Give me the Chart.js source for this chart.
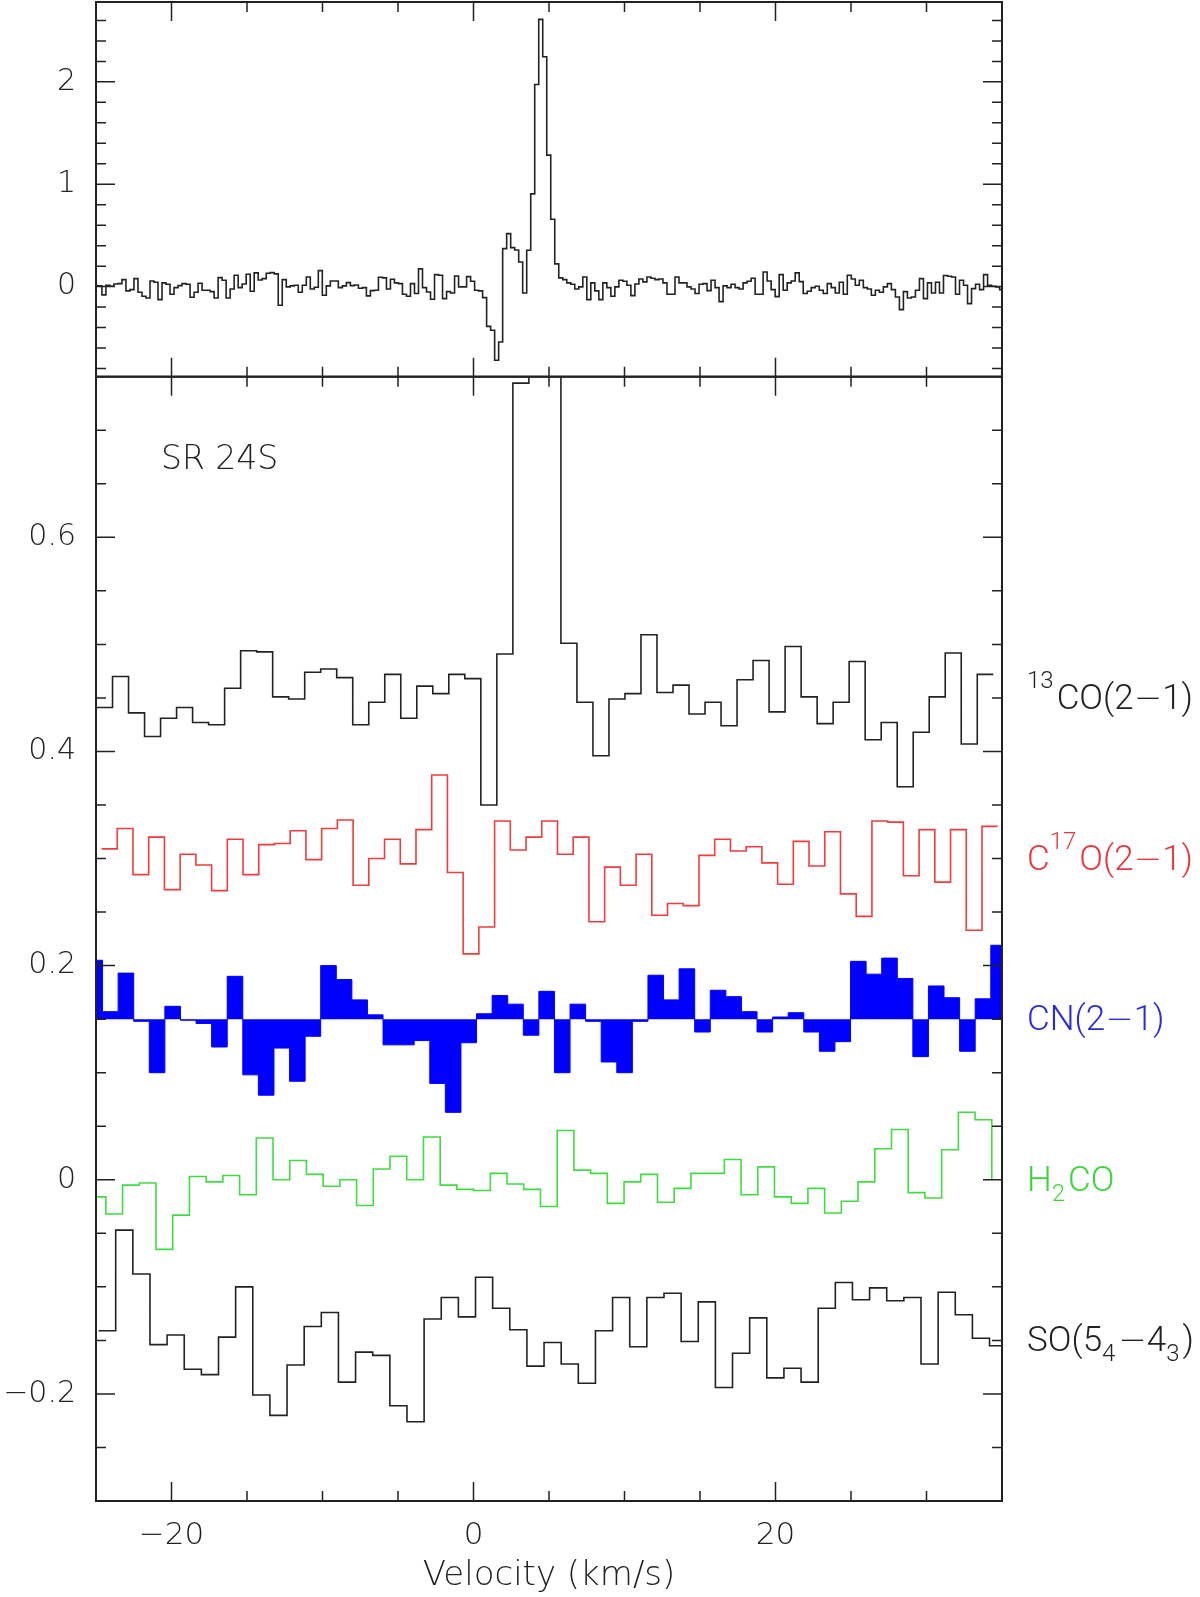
<!DOCTYPE html>
<html>
<head>
<meta charset="utf-8">
<title>SR 24S spectra</title>
<script src="https://cdn.jsdelivr.net/npm/chart.js@4.4.1/dist/chart.umd.min.js"></script>
<style>
  html, body { margin: 0; padding: 0; background: #fff; }
  #wrap { position: relative; width: 1200px; height: 1597px; overflow: hidden; }
  #wrap canvas { position: absolute; left: 0; }
  #topPanel { top: 0; }
  #bottomPanel { top: 370px; }
</style>
</head>
<body>
<div id="wrap">
  <canvas id="topPanel" width="1200" height="380"></canvas>
  <canvas id="bottomPanel" width="1200" height="1227"></canvas>
</div>
<script>
// velocity axis (km/s)
const velMin = -25, velMax = 35;
const xMajor = [-20, 0, 20];
const xMinor = [-15, -10, -5, 5, 10, 15, 25, 30];

// top panel: 13CO(2-1) at full resolution
const topYMin = -0.88, topYMax = 2.78;
const topYMajor = [0, 1, 2];
const topYMinor = [-0.8, -0.6, -0.4, -0.2, 0.2, 0.4, 0.6, 0.8, 1.2, 1.4, 1.6, 1.8, 2.2, 2.4, 2.6];
const topStart = -25.14, topWidth = 0.2654;   // left edge of first channel, channel width
const topValues = [
  0.007, 0.007, -0.081, 0.013, 0.003, 0.026, 0.029, 0.068, -0.042, -0.029,
  0.078, -0.055, -0.094, -0.111, 0.055, 0.042, -0.127, 0.036, 0.023, -0.075,
  -0.010, 0.010, 0.029, 0.023, -0.104, -0.055, 0.033, -0.036, -0.036, -0.049,
  -0.111, 0.088, 0.062, -0.111, -0.023, 0.111, -0.010, 0.026, 0.121, -0.046,
  0.134, 0.065, 0.078, 0.130, 0.137, 0.124, -0.182, 0.068, -0.003, 0.007,
  0.013, -0.055, 0.013, 0.094, -0.023, -0.007, 0.156, -0.085, 0.007, 0.055,
  0.055, -0.010, 0.007, 0.039, 0.010, 0.016, -0.016, -0.010, -0.091, -0.039,
  -0.036, 0.091, 0.085, -0.023, 0.072, 0.036, 0.029, -0.075, -0.094, 0.029,
  -0.068, 0.173, -0.010, -0.052, -0.124, 0.117, 0.111, -0.117, -0.049, -0.062,
  0.104, -0.003, -0.003, 0.098, 0.052, -0.036, -0.042, -0.108, -0.388, -0.427,
  -0.720, -0.541, 0.371, 0.518, 0.381, 0.358, 0.241, -0.062, 0.355, 0.906,
  1.974, 2.610, 2.245, 1.284, 0.658, 0.222, 0.085, 0.068, 0.036, 0.023,
  -0.023, -0.003, 0.094, -0.127, 0.036, -0.042, -0.127, 0.036, -0.010, -0.094,
  -0.003, 0.062, 0.052, 0.013, -0.088, 0.026, 0.075, 0.046, 0.094, 0.081,
  0.068, 0.075, 0.036, -0.075, -0.075, 0.094, 0.036, 0.036, -0.003, -0.023,
  -0.068, 0.023, 0.029, -0.039, 0.062, -0.010, -0.147, 0.007, -0.010, 0.023,
  -0.010, -0.023, 0.036, 0.052, 0.081, -0.075, -0.075, 0.143, 0.055, -0.029,
  -0.098, 0.117, -0.036, 0.036, 0.055, 0.134, 0.049, -0.068, -0.046, -0.010,
  0.003, -0.036, -0.068, 0.029, -0.010, -0.062, 0.042, -0.075, 0.111, 0.075,
  0.013, 0.062, -0.010, -0.023, -0.085, -0.036, -0.055, -0.003, 0.029, -0.029,
  -0.101, -0.225, -0.049, -0.111, -0.101, -0.036, 0.078, -0.117, 0.036, -0.062,
  0.042, -0.062, 0.108, 0.101, 0.094, -0.075, 0.062, 0.013, -0.166, -0.020,
  0.023, -0.029, 0.117, 0.013, 0.003, -0.003, -0.029
];

// bottom panel: offset spectra
const botYMin = -0.3, botYMax = 0.75;
const botYMajor = [-0.2, 0, 0.2, 0.4, 0.6];
const botYMinor = [-0.25, -0.15, -0.1, -0.05, 0.05, 0.1, 0.15, 0.25, 0.3, 0.35, 0.45, 0.5, 0.55, 0.65, 0.7];

const co13Start = -24.966, co13Width = 1.0605;
const co13Values = [
  0.441, 0.470, 0.436, 0.414, 0.431, 0.441, 0.427, 0.425, 0.459, 0.494,
  0.493, 0.451, 0.449, 0.474, 0.477, 0.469, 0.425, 0.446, 0.472, 0.431,
  0.461, 0.454, 0.472, 0.468, 0.350, 0.491, 0.744, 1.91, 1.55, 0.501,
  0.446, 0.396, 0.449, 0.454, 0.509, 0.455, 0.462, 0.435, 0.446, 0.424,
  0.467, 0.485, 0.437, 0.498, 0.451, 0.426, 0.446, 0.484, 0.411, 0.427,
  0.367, 0.418, 0.451, 0.492, 0.407, 0.472
];

const c17oStart = -24.633, c17oWidth = 1.0412;
const c17oValues = [
  0.309, 0.328, 0.285, 0.320, 0.271, 0.304, 0.294, 0.270, 0.318, 0.285,
  0.313, 0.314, 0.326, 0.299, 0.328, 0.336, 0.275, 0.300, 0.318, 0.295,
  0.327, 0.378, 0.287, 0.211, 0.236, 0.335, 0.308, 0.320, 0.335, 0.304,
  0.320, 0.241, 0.292, 0.275, 0.304, 0.247, 0.258, 0.256, 0.303, 0.318,
  0.307, 0.311, 0.296, 0.276, 0.316, 0.293, 0.325, 0.267, 0.246, 0.335,
  0.334, 0.284, 0.327, 0.278, 0.327, 0.233, 0.330
];

const cnStart = -25.599, cnWidth = 1.032, cnBase = 0.15;
const cnValues = [
  0.205, 0.157, 0.193, 0.148, 0.100, 0.162, 0.149, 0.146, 0.124, 0.190,
  0.098, 0.079, 0.123, 0.092, 0.134, 0.200, 0.187, 0.168, 0.154, 0.126,
  0.126, 0.130, 0.090, 0.063, 0.128, 0.155, 0.172, 0.164, 0.135, 0.176,
  0.100, 0.164, 0.148, 0.110, 0.100, 0.148, 0.191, 0.168, 0.197, 0.138,
  0.177, 0.171, 0.157, 0.138, 0.152, 0.156, 0.138, 0.120, 0.129, 0.204,
  0.192, 0.207, 0.188, 0.115, 0.181, 0.170, 0.120, 0.169, 0.219
];

const h2coStart = -25.454, h2coWidth = 1.107;
const h2coValues = [
  -0.016, -0.032, -0.005, -0.003, -0.065, -0.033, 0.003, -0.002, 0.004, -0.014,
  0.039, 0.000, 0.018, 0.005, -0.006, 0.000, -0.024, 0.010, 0.022, 0.000,
  0.040, -0.005, -0.009, -0.010, 0.006, -0.004, -0.009, -0.025, 0.046, 0.009,
  0.006, -0.022, -0.002, 0.005, -0.021, -0.008, 0.006, 0.006, 0.019, -0.014,
  0.012, -0.016, -0.022, -0.008, -0.031, -0.020, -0.002, 0.029, 0.047, -0.012,
  -0.017, 0.028, 0.063, 0.056
];

const soStart = -24.83, soWidth = 1.1347;
const soValues = [
  -0.141, -0.047, -0.088, -0.154, -0.145, -0.177, -0.182, -0.147, -0.100, -0.201,
  -0.220, -0.173, -0.137, -0.124, -0.189, -0.161, -0.164, -0.211, -0.226, -0.130,
  -0.110, -0.128, -0.091, -0.120, -0.140, -0.174, -0.152, -0.172, -0.190, -0.141,
  -0.110, -0.156, -0.110, -0.106, -0.151, -0.114, -0.194, -0.162, -0.129, -0.185,
  -0.176, -0.189, -0.120, -0.096, -0.112, -0.101, -0.113, -0.110, -0.172, -0.105,
  -0.126, -0.148, -0.155
];

// line names on the right, placed at each spectrum's baseline
const lineBaselines = [0.45, 0.30, 0.15, 0.0, -0.15];
const lineColors = ['#222222', '#e8383d', '#2a2ad8', '#3cd63c', '#222222'];
const lineNames = [
  [['13', 'sup'], ['CO(2', ''], ['\u2212', 'minus'], ['1)', '']],
  [['C', ''], ['17', 'sup'], ['O(2', ''], ['\u2212', 'minus'], ['1)', '']],
  [['CN(2', ''], ['\u2212', 'minus'], ['1)', '']],
  [['H', ''], ['2', 'sub'], ['CO', '']],
  [['SO(5', ''], ['4', 'sub'], ['\u2212', 'minus'], ['4', ''], ['3', 'sub'], [')', '']]
];
const sourceName = 'SR 24S';

const FONT = "'DejaVu Sans', 'Liberation Sans', sans-serif";
const LABEL_FONT = "Roboto, 'Liberation Sans', sans-serif";
Chart.defaults.font.family = FONT;
Chart.defaults.font.weight = 200;
Chart.defaults.color = '#222';

// histogram: one point at each channel's left edge, plus a closing point
function steps(start, width, values, closeValue) {
  const pts = values.map((v, i) => ({ x: start + i * width, y: v }));
  const last = closeValue === undefined ? values[values.length - 1] : closeValue;
  pts.push({ x: start + values.length * width, y: last });
  return pts;
}

const minusFmt = v => (v < 0 ? '\u2212' : '') + Math.abs(v);

// frame with inward ticks on all four sides
const boxTicks = {
  id: 'boxTicks',
  afterDatasetsDraw(chart, args, opts) {
    const { ctx, chartArea: a } = chart;
    const x = chart.scales.x, y = chart.scales.y;
    ctx.save();
    ctx.strokeStyle = '#222';
    ctx.lineWidth = 1.5;
    ctx.beginPath();
    const vTick = (v, len) => {
      const px = x.getPixelForValue(v);
      ctx.moveTo(px, a.bottom); ctx.lineTo(px, a.bottom - len);
      ctx.moveTo(px, a.top); ctx.lineTo(px, a.top + len);
    };
    const hTick = (v, len) => {
      const py = y.getPixelForValue(v);
      ctx.moveTo(a.left, py); ctx.lineTo(a.left + len, py);
      ctx.moveTo(a.right, py); ctx.lineTo(a.right - len, py);
    };
    opts.xMajor.forEach(v => vTick(v, 19));
    opts.xMinor.forEach(v => vTick(v, 10));
    opts.yMajor.forEach(v => hTick(v, 19));
    opts.yMinor.forEach(v => hTick(v, 10));
    ctx.stroke();
    ctx.lineWidth = 2;
    ctx.strokeRect(a.left, a.top, a.right - a.left, a.bottom - a.top);
    ctx.restore();
  }
};

const partFont = {
  '': '300 35px ' + LABEL_FONT,
  sup: '300 24px ' + LABEL_FONT,
  sub: '300 24px ' + LABEL_FONT,
  minus: '200 34px ' + FONT
};

const lineLabels = {
  id: 'lineLabels',
  afterDraw(chart) {
    const { ctx, chartArea: a } = chart;
    const x = chart.scales.x, y = chart.scales.y;
    ctx.save();
    ctx.textBaseline = 'alphabetic';
    ctx.textAlign = 'left';
    lineNames.forEach((parts, i) => {
      let px = a.right + 25;
      const py = y.getPixelForValue(lineBaselines[i]) + 11;
      ctx.fillStyle = lineColors[i];
      parts.forEach(([txt, kind]) => {
        ctx.font = partFont[kind];
        const dy = kind === 'sup' ? -21 : kind === 'sub' ? 10 : 0;
        ctx.fillText(txt, px, py + dy);
        px += ctx.measureText(txt).width + (kind === 'sup' || kind === 'sub' ? 3 : 0);
      });
    });
    ctx.fillStyle = '#222';
    ctx.font = '200 33px ' + FONT;
    ctx.fillText(sourceName, x.getPixelForValue(-20.7), y.getPixelForValue(0.664));
    ctx.restore();
  }
};

function lineSet(data, color, extra) {
  return Object.assign({
    data: data,
    borderColor: color,
    borderWidth: 1.6,
    pointRadius: 0,
    stepped: true,
    fill: false,
    clip: 0
  }, extra || {});
}

function yScale(min, max, major, fontSize) {
  return {
    type: 'linear',
    min: min,
    max: max,
    grid: { display: false, drawTicks: false },
    border: { display: false },
    ticks: { font: { size: fontSize }, padding: 20, color: '#222', callback: minusFmt },
    afterBuildTicks: s => { s.ticks = major.map(v => ({ value: v })); },
    afterFit: s => { s.width = 96; s.paddingTop = 0; s.paddingBottom = 0; }
  };
}

// top panel
new Chart(document.getElementById('topPanel'), {
  type: 'line',
  data: { datasets: [lineSet(steps(topStart, topWidth, topValues), '#222')] },
  options: {
    responsive: false,
    animation: false,
    devicePixelRatio: 1,
    layout: { padding: { top: 2, right: 198, bottom: 3.3, left: 0 } },
    plugins: {
      legend: { display: false },
      tooltip: { enabled: false },
      boxTicks: { xMajor: xMajor, xMinor: xMinor, yMajor: topYMajor, yMinor: topYMinor }
    },
    scales: {
      x: { type: 'linear', min: velMin, max: velMax, display: false },
      y: yScale(topYMin, topYMax, topYMajor, 30)
    }
  },
  plugins: [boxTicks]
});

// bottom panel
new Chart(document.getElementById('bottomPanel'), {
  type: 'line',
  data: {
    datasets: [
      lineSet(steps(co13Start, co13Width, co13Values), '#222'),
      lineSet(steps(c17oStart, c17oWidth, c17oValues), '#f03c3c'),
      lineSet(steps(cnStart, cnWidth, cnValues), '#0000ff', {
        borderWidth: 1, fill: { value: cnBase }, backgroundColor: '#0000ff'
      }),
      lineSet(steps(h2coStart, h2coWidth, h2coValues, 0), '#40dd40'),
      lineSet(steps(soStart, soWidth, soValues), '#222')
    ]
  },
  options: {
    responsive: false,
    animation: false,
    devicePixelRatio: 1,
    layout: { padding: { top: 6.7, right: 198, bottom: 0, left: 0 } },
    plugins: {
      legend: { display: false },
      tooltip: { enabled: false },
      boxTicks: { xMajor: xMajor, xMinor: xMinor, yMajor: botYMajor, yMinor: botYMinor }
    },
    scales: {
      x: {
        type: 'linear',
        min: velMin,
        max: velMax,
        grid: { display: false, drawTicks: false },
        border: { display: false },
        ticks: { font: { size: 31 }, padding: 16, color: '#222', maxRotation: 0, callback: minusFmt },
        afterBuildTicks: s => { s.ticks = xMajor.map(v => ({ value: v })); },
        afterFit: s => { s.height = 96; s.paddingLeft = 0; s.paddingRight = 0; },
        title: { display: true, text: 'Velocity (km/s)', font: { size: 34 }, color: '#222', padding: { top: 0, bottom: 0 } }
      },
      y: yScale(botYMin, botYMax, botYMajor, 30)
    }
  },
  plugins: [boxTicks, lineLabels]
});
</script>
</body>
</html>
